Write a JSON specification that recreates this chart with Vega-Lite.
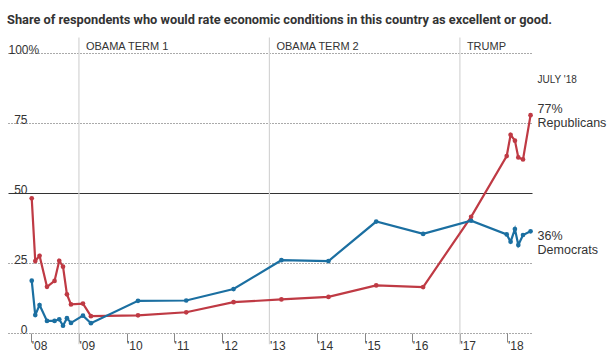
{
  "$schema": "https://vega.github.io/schema/vega-lite/v6.json",
  "autosize": "none",
  "width": 524,
  "height": 280,
  "padding": {"left": 8, "top": 53, "right": 77, "bottom": 22},
  "background": "white",
  "config": {
    "view": {"stroke": null},
    "font": "Liberation Sans, Arial, sans-serif"
  },
  "title": {
    "text": "Share of respondents who would rate economic conditions in this country as excellent or good.",
    "anchor": "start",
    "frame": "group",
    "font": "Roboto",
    "fontSize": 12.8,
    "fontWeight": "bold",
    "color": "#333333",
    "baseline": "alphabetic",
    "offset": 0,
    "dx": -1
  },
  "datasets": {
    "polls": [
      {"date": "2008-01-05", "party": "Republicans", "value": 48.1},
      {"date": "2008-02-01", "party": "Republicans", "value": 25.7},
      {"date": "2008-03-05", "party": "Republicans", "value": 27.6},
      {"date": "2008-05-01", "party": "Republicans", "value": 16.5},
      {"date": "2008-06-28", "party": "Republicans", "value": 18.6},
      {"date": "2008-08-03", "party": "Republicans", "value": 25.8},
      {"date": "2008-09-01", "party": "Republicans", "value": 23.7},
      {"date": "2008-10-01", "party": "Republicans", "value": 13.8},
      {"date": "2008-11-01", "party": "Republicans", "value": 10.2},
      {"date": "2009-02-01", "party": "Republicans", "value": 10.5},
      {"date": "2009-04-03", "party": "Republicans", "value": 6.0},
      {"date": "2010-03-30", "party": "Republicans", "value": 6.3},
      {"date": "2011-04-04", "party": "Republicans", "value": 7.4},
      {"date": "2012-04-01", "party": "Republicans", "value": 11.0},
      {"date": "2013-04-03", "party": "Republicans", "value": 12.0},
      {"date": "2014-03-30", "party": "Republicans", "value": 12.9},
      {"date": "2015-03-31", "party": "Republicans", "value": 17.0},
      {"date": "2016-03-25", "party": "Republicans", "value": 16.4},
      {"date": "2017-03-28", "party": "Republicans", "value": 41.5},
      {"date": "2017-12-26", "party": "Republicans", "value": 63.2},
      {"date": "2018-01-25", "party": "Republicans", "value": 70.8},
      {"date": "2018-02-27", "party": "Republicans", "value": 68.7},
      {"date": "2018-03-25", "party": "Republicans", "value": 62.7},
      {"date": "2018-04-30", "party": "Republicans", "value": 62.0},
      {"date": "2018-06-27", "party": "Republicans", "value": 77.8},
      {"date": "2008-01-05", "party": "Democrats", "value": 18.7},
      {"date": "2008-02-01", "party": "Democrats", "value": 6.4},
      {"date": "2008-03-05", "party": "Democrats", "value": 10.0},
      {"date": "2008-05-01", "party": "Democrats", "value": 4.3},
      {"date": "2008-06-28", "party": "Democrats", "value": 4.3},
      {"date": "2008-08-03", "party": "Democrats", "value": 4.9},
      {"date": "2008-09-01", "party": "Democrats", "value": 2.6},
      {"date": "2008-10-01", "party": "Democrats", "value": 5.3},
      {"date": "2008-11-01", "party": "Democrats", "value": 3.6},
      {"date": "2009-02-01", "party": "Democrats", "value": 6.2},
      {"date": "2009-04-03", "party": "Democrats", "value": 3.5},
      {"date": "2010-03-30", "party": "Democrats", "value": 11.5},
      {"date": "2011-04-04", "party": "Democrats", "value": 11.6},
      {"date": "2012-04-01", "party": "Democrats", "value": 15.7},
      {"date": "2013-04-03", "party": "Democrats", "value": 26.0},
      {"date": "2014-03-30", "party": "Democrats", "value": 25.7},
      {"date": "2015-03-31", "party": "Democrats", "value": 39.8},
      {"date": "2016-03-25", "party": "Democrats", "value": 35.4},
      {"date": "2017-03-28", "party": "Democrats", "value": 40.1},
      {"date": "2017-12-26", "party": "Democrats", "value": 35.2},
      {"date": "2018-01-25", "party": "Democrats", "value": 32.6},
      {"date": "2018-02-27", "party": "Democrats", "value": 37.1},
      {"date": "2018-03-25", "party": "Democrats", "value": 31.4},
      {"date": "2018-04-30", "party": "Democrats", "value": 35.0},
      {"date": "2018-06-27", "party": "Democrats", "value": 36.3}
    ],
    "terms": [
      {"date": "2009-01-01", "label": "OBAMA TERM 1"},
      {"date": "2013-01-01", "label": "OBAMA TERM 2"},
      {"date": "2017-01-01", "label": "TRUMP"}
    ],
    "ends": [
      {"date": "2018-06-27", "party": "Republicans", "value": 77.8, "label": "77%\nRepublicans"},
      {"date": "2018-06-27", "party": "Democrats", "value": 36.3, "label": "36%\nDemocrats"}
    ]
  },
  "layer": [
    {
      "data": {"name": "terms"},
      "mark": {"type": "rule", "color": "#d4d4d4", "strokeWidth": 1.2, "clip": false},
      "encoding": {
        "x": {"field": "date", "type": "temporal"},
        "y": {"datum": 105.5, "type": "quantitative"},
        "y2": {"datum": -4}
      }
    },
    {
      "data": {"name": "terms"},
      "mark": {"type": "text", "align": "left", "baseline": "middle", "dx": 7, "fontSize": 11, "color": "#333333"},
      "encoding": {
        "x": {"field": "date", "type": "temporal"},
        "y": {"datum": 102.3, "type": "quantitative"},
        "text": {"field": "label"}
      }
    },
    {
      "data": {"name": "polls"},
      "mark": {"type": "line", "strokeWidth": 2.2},
      "encoding": {
        "x": {
          "field": "date",
          "type": "temporal",
          "scale": {"domain": ["2007-07-07", "2018-07-08"]},
          "axis": {
            "title": null,
            "domain": false,
            "grid": false,
            "tickCount": {"interval": "year", "step": 1},
            "format": "'%y",
            "labelAlign": "left",
            "labelBaseline": "top",
            "labelFlush": false,
            "labelDx": 2,
            "labelPadding": -2,
            "labelFontSize": 12,
            "labelColor": "#333333",
            "tickSize": 9,
            "tickColor": "#888888",
            "tickWidth": 1
          }
        },
        "y": {
          "field": "value",
          "type": "quantitative",
          "scale": {"domain": [0, 100]},
          "axis": {
            "title": null,
            "domain": false,
            "ticks": false,
            "tickSize": 0,
            "values": [0, 25, 50, 75, 100],
            "labelExpr": "datum.value == 100 ? '100%' : datum.label",
            "labelAlign": {"condition": {"test": "datum.value == 100", "value": "left"}, "value": "right"},
            "labelPadding": {"condition": {"test": "datum.value == 100", "value": 0}, "value": -19},
            "labelBaseline": "alphabetic",
            "labelDy": -3,
            "labelFontSize": 12,
            "labelColor": "#333333",
            "grid": true,
            "gridColor": {"condition": {"test": "datum.value == 50", "value": "#333333"}, "value": "#555555"},
            "gridDash": {"condition": {"test": "datum.value == 50", "value": []}, "value": [1, 2]},
            "gridWidth": 1
          }
        },
        "color": {
          "field": "party",
          "type": "nominal",
          "scale": {"domain": ["Republicans", "Democrats"], "range": ["#bf3a44", "#1b6fa1"]},
          "legend": null
        },
        "detail": {"field": "party"}
      }
    },
    {
      "data": {"name": "polls"},
      "mark": {"type": "point", "filled": true, "opacity": 1, "size": 22},
      "encoding": {
        "x": {"field": "date", "type": "temporal"},
        "y": {"field": "value", "type": "quantitative"},
        "color": {"field": "party", "type": "nominal"}
      }
    },
    {
      "data": {"name": "ends"},
      "transform": [{"filter": "datum.party == 'Republicans'"}],
      "mark": {"type": "text", "align": "left", "baseline": "middle", "lineBreak": "\n", "dx": 7, "dy": -6, "fontSize": 12.5, "lineHeight": 14, "color": "#333333"},
      "encoding": {
        "x": {"field": "date", "type": "temporal"},
        "y": {"field": "value", "type": "quantitative"},
        "text": {"field": "label"}
      }
    },
    {
      "data": {"name": "ends"},
      "transform": [{"filter": "datum.party == 'Democrats'"}],
      "mark": {"type": "text", "align": "left", "baseline": "middle", "lineBreak": "\n", "dx": 7, "dy": 5, "fontSize": 12.5, "lineHeight": 14, "color": "#333333"},
      "encoding": {
        "x": {"field": "date", "type": "temporal"},
        "y": {"field": "value", "type": "quantitative"},
        "text": {"field": "label"}
      }
    },
    {
      "data": {"values": [{"date": "2018-06-27", "label": "JULY '18"}]},
      "mark": {"type": "text", "align": "left", "baseline": "middle", "dx": 7, "fontSize": 10, "color": "#333333"},
      "encoding": {
        "x": {"field": "date", "type": "temporal"},
        "y": {"datum": 90.4, "type": "quantitative"},
        "text": {"field": "label"}
      }
    }
  ]
}
